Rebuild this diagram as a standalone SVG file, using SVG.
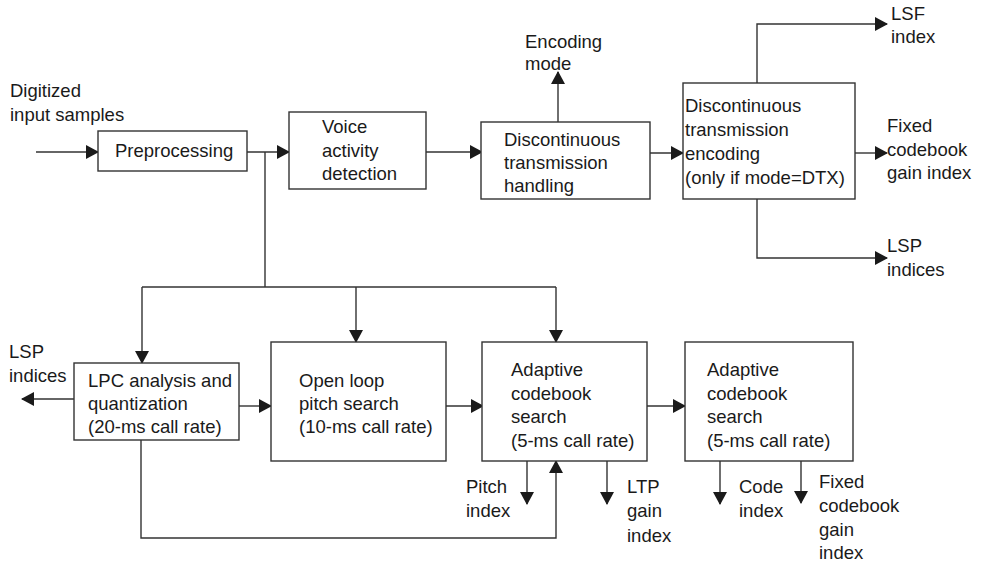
<svg xmlns="http://www.w3.org/2000/svg" width="1008" height="565" viewBox="0 0 1008 565">
<defs>
<marker id="ah" markerUnits="userSpaceOnUse" markerWidth="13" markerHeight="14" refX="12" refY="7" orient="auto">
<path d="M0,0 L13,7 L0,14 z" fill="#1a1a1a"/>
</marker>
<style>
.box{fill:#fff;stroke:#333;stroke-width:1.4}
.c{fill:none;stroke:#333;stroke-width:1.4}
.a{marker-end:url(#ah)}
text{font-family:"Liberation Sans",Arial,sans-serif;font-size:18.5px;fill:#1a1a1a}
</style>
</defs>
<rect width="1008" height="565" fill="#fff"/>
<g id="connectors">
<path class="c a" d="M36,152 H98"/>
<path class="c a" d="M247,152 H289"/>
<path class="c" d="M265,152 V287"/>
<path class="c" d="M142,287 H556"/>
<path class="c a" d="M142,287 V363"/>
<path class="c a" d="M356,287 V342"/>
<path class="c a" d="M556,287 V342"/>
<path class="c a" d="M426,152 H482"/>
<path class="c a" d="M558,122 V72"/>
<path class="c a" d="M650,153 H683"/>
<path class="c a" d="M757,83 V24 H887"/>
<path class="c a" d="M855,153 H887"/>
<path class="c a" d="M757,199 V258 H887"/>
<path class="c a" d="M74,399 H22"/>
<path class="c a" d="M239,406 H271"/>
<path class="c a" d="M446,406 H483"/>
<path class="c a" d="M141,440 V538 H556 V461"/>
<path class="c a" d="M647,406 H685"/>
<path class="c a" d="M527,461 V504"/>
<path class="c a" d="M607,461 V504"/>
<path class="c a" d="M720,461 V504"/>
<path class="c a" d="M801,461 V503"/>
</g>
<g id="input-label">
<text x="10" y="97">Digitized</text>
<text x="10" y="121">input samples</text>
</g>
<g id="preprocessing">
<rect class="box" x="98" y="131" width="149" height="40"/>
<text x="115" y="157">Preprocessing</text>
</g>
<g id="vad">
<rect class="box" x="289" y="112" width="137" height="77"/>
<text x="322" y="133">Voice</text>
<text x="322" y="157">activity</text>
<text x="322" y="180">detection</text>
</g>
<g id="dtx-handling">
<rect class="box" x="481" y="122" width="169" height="77"/>
<text x="504" y="146">Discontinuous</text>
<text x="504" y="169">transmission</text>
<text x="504" y="192">handling</text>
</g>
<g id="encoding-mode">
<text x="525" y="48">Encoding</text>
<text x="525" y="70">mode</text>
</g>
<g id="dtx-encoding">
<rect class="box" x="683" y="83" width="172" height="116"/>
<text x="685" y="112">Discontinuous</text>
<text x="685" y="136">transmission</text>
<text x="685" y="160">encoding</text>
<text x="685" y="184">(only if mode=DTX)</text>
</g>
<g id="lsf-index">
<text x="891" y="20">LSF</text>
<text x="891" y="43">index</text>
</g>
<g id="fixed-gain-top">
<text x="887" y="132">Fixed</text>
<text x="887" y="156">codebook</text>
<text x="887" y="179">gain index</text>
</g>
<g id="lsp-indices-right">
<text x="887" y="252">LSP</text>
<text x="887" y="276">indices</text>
</g>
<g id="lsp-indices-left">
<text x="9" y="358">LSP</text>
<text x="9" y="382">indices</text>
</g>
<g id="lpc">
<rect class="box" x="74" y="363" width="165" height="77"/>
<text x="88" y="387">LPC analysis and</text>
<text x="88" y="410">quantization</text>
<text x="88" y="433">(20-ms call rate)</text>
</g>
<g id="open-loop">
<rect class="box" x="271" y="342" width="175" height="119"/>
<text x="299" y="387">Open loop</text>
<text x="299" y="410">pitch search</text>
<text x="299" y="433">(10-ms call rate)</text>
</g>
<g id="acs1">
<rect class="box" x="482" y="342" width="165" height="119"/>
<text x="511" y="376">Adaptive</text>
<text x="511" y="400">codebook</text>
<text x="511" y="423">search</text>
<text x="511" y="447">(5-ms call rate)</text>
</g>
<g id="acs2">
<rect class="box" x="685" y="342" width="168" height="119"/>
<text x="707" y="376">Adaptive</text>
<text x="707" y="400">codebook</text>
<text x="707" y="423">search</text>
<text x="707" y="447">(5-ms call rate)</text>
</g>
<g id="pitch-index">
<text x="466" y="493">Pitch</text>
<text x="466" y="517">index</text>
</g>
<g id="ltp-gain-index">
<text x="627" y="493">LTP</text>
<text x="627" y="517">gain</text>
<text x="627" y="542">index</text>
</g>
<g id="code-index">
<text x="739" y="493">Code</text>
<text x="739" y="517">index</text>
</g>
<g id="fixed-gain-bottom">
<text x="819" y="488">Fixed</text>
<text x="819" y="512">codebook</text>
<text x="819" y="536">gain</text>
<text x="819" y="559">index</text>
</g>
</svg>
